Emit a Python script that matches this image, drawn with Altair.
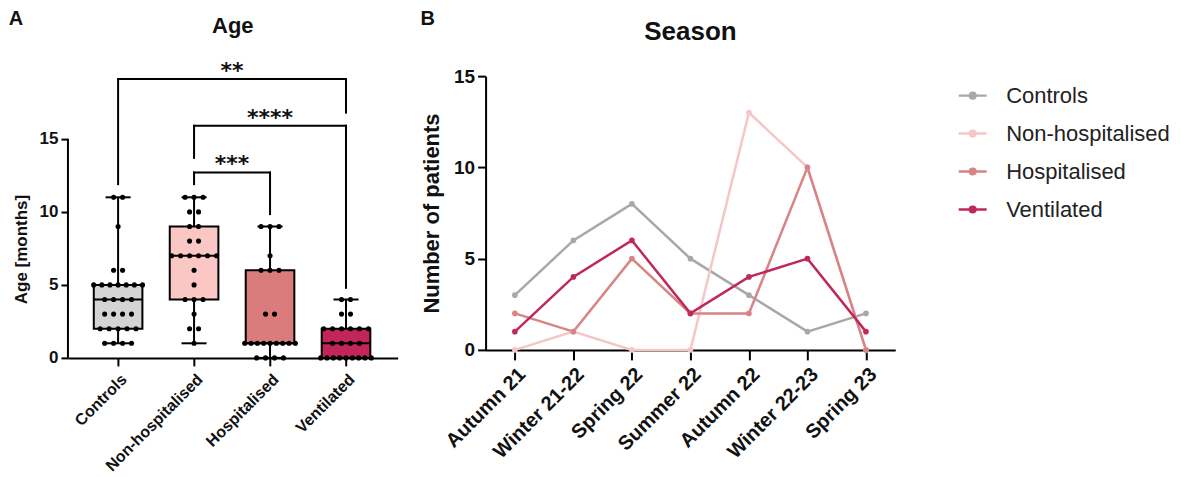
import json
import altair as alt
import pandas as pd

# ---------------- data ----------------
groups = ["Controls", "Non-hospitalised", "Hospitalised", "Ventilated"]
box_fill = ["#d4d4d4", "#fbc7c5", "#da7c7c", "#c2255a"]
line_colors = ["#a8a8a8", "#f5c6c6", "#d98484", "#c0285c"]

age_controls = [1, 1, 1, 1, 2, 2, 2, 2, 2, 3, 3, 3, 3, 4, 4, 4, 4,
                5, 5, 5, 5, 5, 5, 5, 6, 6, 9, 11, 11]
age_nonhosp = [1, 2, 2, 3, 4, 4, 4, 5, 6, 7, 7, 7, 7, 7, 7,
               8, 8, 9, 9, 10, 10, 11, 11, 11]
age_hosp = [0, 0, 0, 0, 1, 1, 1, 1, 1, 1, 1, 1, 1, 3, 3, 6, 6, 6, 7, 9, 9, 9]
age_vent = [0, 0, 0, 0, 0, 0, 0, 0, 0, 1, 1, 1, 1, 2, 2, 2, 2, 2, 2, 3, 3, 4, 4]
age_axis_span = [0, 15]

bracket_from = ["Controls", "Non-hospitalised", "Non-hospitalised"]
bracket_to = ["Ventilated", "Ventilated", "Hospitalised"]
bracket_top = [19.1, 15.9, 12.7]
bracket_left_end = [11.9, 13.7, 11.9]
bracket_right_end = [16.8, 4.8, 9.85]
bracket_label = ["**", "****", "***"]

seasons = ["Autumn 21", "Winter 21-22", "Spring 22", "Summer 22",
           "Autumn 22", "Winter 22-23", "Spring 23"]
n_controls = [3, 6, 8, 5, 3, 1, 2]
n_nonhosp = [0, 1, 0, 0, 13, 10, 0]
n_hosp = [2, 1, 5, 2, 2, 10, 0]
n_vent = [1, 4, 6, 2, 4, 5, 1]

# ---------------- tables ----------------
age_df = pd.DataFrame(
    [{"group": g, "age": v}
     for g, vals in zip(groups, [age_controls, age_nonhosp, age_hosp, age_vent])
     for v in vals]
)
br_df = pd.DataFrame({"g1": bracket_from, "g2": bracket_to, "ytop": bracket_top,
                      "yl": bracket_left_end, "yr": bracket_right_end,
                      "lab": bracket_label})
season_df = pd.DataFrame(
    [{"group": g, "season": s, "n": v}
     for g, vals in zip(groups, [n_controls, n_nonhosp, n_hosp, n_vent])
     for s, v in zip(seasons, vals)]
)
span_df = pd.DataFrame({"lo": [age_axis_span[0]], "hi": [age_axis_span[1]]})

G = json.dumps(groups)
S = json.dumps(seasons)
F = json.dumps(box_fill)
FONT = "Arial"


def idx(field):
    return f"indexof({G}, datum.{field})"


def XA(field):
    return alt.X(
        f"{field}:Q",
        title=None,
        scale=alt.Scale(domain=[-0.66, 3.68], nice=False, zero=False),
        axis=alt.Axis(values=[0, 1, 2, 3], labelExpr=f"{G}[datum.value]",
                      labelAngle=-45, labelFont=FONT, labelFontWeight="bold",
                      labelFontSize=16, labelColor="#111", labelPadding=5,
                      labelOverlap=False, labelBound=False, labelFlush=False,
                      tickSize=8, tickWidth=2, tickColor="black",
                      domainWidth=2, domainColor="black", grid=False),
    )


def YA(field):
    return alt.Y(
        f"{field}:Q",
        title="Age [months]",
        scale=alt.Scale(domain=[0, 19.3], nice=False),
        axis=alt.Axis(values=[0, 5, 10, 15], domain=False, grid=False,
                      labelFont=FONT, labelFontWeight="bold", labelFontSize=17,
                      labelColor="#111", labelPadding=3, tickSize=7, tickWidth=2,
                      tickColor="black", titleFont=FONT, titleFontWeight="bold",
                      titleFontSize=17, titleColor="#111", titleX=-46, titleY=173,
                      titleAngle=-90, titleBaseline="middle", titleAlign="center"),
    )


stats = alt.Chart(age_df).transform_aggregate(
    mn="min(age)", q1="q1(age)", med="median(age)", q3="q3(age)", mx="max(age)",
    groupby=["group"],
).transform_calculate(
    xi=idx("group"), xl=f"{idx('group')} - 0.32", xr=f"{idx('group')} + 0.32",
    cl=f"{idx('group')} - 0.165", cr=f"{idx('group')} + 0.165",
    boxcol=f"{F}[{idx('group')}]",
)

whisk = stats.mark_rule(color="black", strokeWidth=2).encode(
    x=XA("xi"), y=YA("mn"), y2="mx:Q")
box = stats.mark_rect(stroke="black", strokeWidth=2, opacity=1).encode(
    x=XA("xl"), x2="xr:Q", y=YA("q1"), y2="q3:Q",
    fill=alt.Fill("boxcol:N", scale=None))
med = stats.mark_rule(color="black", strokeWidth=2).encode(
    x=XA("xl"), x2="xr:Q", y=YA("med"))
cap_lo = stats.mark_rule(color="black", strokeWidth=2).encode(
    x=XA("cl"), x2="cr:Q", y=YA("mn"))
cap_hi = stats.mark_rule(color="black", strokeWidth=2).encode(
    x=XA("cl"), x2="cr:Q", y=YA("mx"))

dots = alt.Chart(age_df).transform_joinaggregate(
    n="count()", groupby=["group", "age"]
).transform_window(
    r="row_number()", groupby=["group", "age"]
).transform_calculate(
    xp=f"{idx('group')} + (datum.r - (datum.n + 1) / 2) * min(0.118, 0.75 / datum.n)"
).mark_circle(size=26, color="black", opacity=1).encode(x=XA("xp"), y=YA("age"))

yline = alt.Chart(span_df).mark_rule(color="black", strokeWidth=2).encode(
    x=alt.value(0), y=YA("lo"), y2="hi:Q")

br = alt.Chart(br_df).transform_calculate(
    xa=idx("g1"), xb=idx("g2"), xm=f"({idx('g1')} + {idx('g2')}) / 2")
br_h = br.mark_rule(color="black", strokeWidth=2, strokeCap="square").encode(
    x=XA("xa"), x2="xb:Q", y=YA("ytop"))
br_l = br.mark_rule(color="black", strokeWidth=2, strokeCap="square").encode(
    x=XA("xa"), y=YA("yl"), y2="ytop:Q")
br_r = br.mark_rule(color="black", strokeWidth=2, strokeCap="square").encode(
    x=XA("xb"), y=YA("yr"), y2="ytop:Q")
br_t = br.mark_text(font="DejaVu Sans", fontWeight="bold", fontSize=22,
                    baseline="alphabetic", dy=-1, color="#111").encode(
    x=XA("xm"), y=YA("ytop"), text="lab:N")

lab_a = alt.Chart(pd.DataFrame({"t": ["A"]})).mark_text(
    font=FONT, fontWeight="bold", fontSize=20, color="#111").encode(
    text="t:N", x=alt.value(-52), y=alt.value(-57))
title_a = alt.Chart(pd.DataFrame({"t": ["Age"]})).mark_text(
    font=FONT, fontWeight="bold", fontSize=22, color="#111").encode(
    text="t:N", x=alt.value(165), y=alt.value(-50))

panel_a = alt.layer(
    whisk, box, med, cap_lo, cap_hi, dots, yline, br_h, br_l, br_r, br_t, lab_a, title_a
).properties(width=330, height=282)

# ---------------- panel B ----------------
legend_path = "M-1,0H1M0.2,0A0.2,0.2,0,1,1,-0.2,0A0.2,0.2,0,1,1,0.2,0Z"
legB = alt.Legend(title=None, orient="right", offset=58, padding=4,
                  labelFont=FONT, labelFontSize=22, labelColor="#222",
                  labelLimit=400, labelOffset=18, rowPadding=11,
                  symbolType=legend_path, symbolSize=784,
                  symbolStrokeWidth=2.5)
colB = alt.Color("group:N", scale=alt.Scale(domain=groups, range=line_colors), legend=legB)
XB = alt.X("season:N", sort=seasons, title=None,
           scale=alt.Scale(padding=0.5),
           axis=alt.Axis(labelAngle=-45, labelFont=FONT, labelFontWeight="bold",
                         labelFontSize=20, labelColor="#111", labelPadding=4,
                         labelOverlap=False,
                         tickSize=10, tickWidth=2, tickColor="black",
                         domainWidth=2, domainColor="black", grid=False))
YB = alt.Y("n:Q", title="Number of patients",
           scale=alt.Scale(domain=[0, 15], nice=False),
           axis=alt.Axis(values=[0, 5, 10, 15], grid=False, labelFont=FONT,
                         labelFontWeight="bold", labelFontSize=19, labelColor="#111",
                         labelPadding=3, tickSize=8, tickWidth=2, tickColor="black",
                         domainWidth=2, domainColor="black", titleFont=FONT,
                         titleFontWeight="bold", titleFontSize=22, titleColor="#111",
                         titlePadding=10))

baseB = alt.Chart(season_df).transform_calculate(si=f"indexof({S}, datum.season)")
linesB = baseB.mark_line(strokeWidth=2.5).encode(x=XB, y=YB, color=colB, order="si:Q")
ptsB = baseB.mark_circle(size=32, opacity=1).encode(x=XB, y=YB, color=colB)

lab_b = alt.Chart(pd.DataFrame({"t": ["B"]})).mark_text(
    font=FONT, fontWeight="bold", fontSize=20, color="#111").encode(
    text="t:N", x=alt.value(-58), y=alt.value(-57))
title_b = alt.Chart(pd.DataFrame({"t": ["Season"]})).mark_text(
    font=FONT, fontWeight="bold", fontSize=26, color="#111").encode(
    text="t:N", x=alt.value(205), y=alt.value(-44))

panel_b = alt.layer(linesB, ptsB, lab_b, title_b).properties(width=410, height=274)

chart = alt.hconcat(panel_a, panel_b, spacing=22).properties(
    padding={"left": 0, "top": 1, "right": 0, "bottom": 0},
    background="white",
).configure_view(stroke=None)

chart.save("out.html", embed_options={"renderer": "svg", "actions": False})
